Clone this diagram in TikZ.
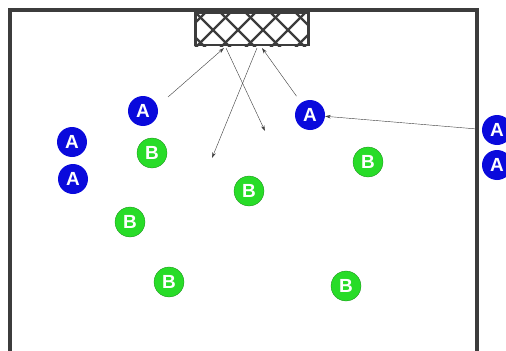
\documentclass[tikz,border=0pt]{standalone}
\usepackage{fontspec}
\setsansfont{Liberation Sans}
\usetikzlibrary{arrows.meta}
\definecolor{teamA}{RGB}{10,10,220}
\definecolor{teamB}{RGB}{40,220,40}
\definecolor{lineGray}{RGB}{60,60,60}
\begin{document}
\begin{tikzpicture}[
        x=0.05cm, y=-0.05cm,
        player/.style={circle, minimum size=1.5cm, inner sep=0pt, text=white, font=\sffamily\bfseries\fontsize{27}{27}\selectfont},
        playerA/.style={player, fill=teamA},
        playerB/.style={player, fill=teamB, draw=teamB!60!black, thin},
        goal/.style={rectangle, draw=lineGray, line width=4pt, minimum width=5.65cm, minimum height=1.6cm, inner sep=0pt},
        hatch/.style={draw=lineGray, line width=3.5pt},
        pass/.style={-{Stealth[length=8pt, width=5pt]}, semithick, black!75}
    ]

        \useasboundingbox (0,0) rectangle (506,350);

        % field
        \draw[lineGray, line width=5pt] (10,352) -- (10,10) -- (477,10) -- (477,352);

        % goal with net
        \node[goal] (goal) at (252,29) {};
        \begin{scope}
            \clip (goal.south west) rectangle (goal.north east);
            \foreach \i in {-50,-25,...,125} {
                \draw[hatch] (195+\i,12) -- ++(36,36);
                \draw[hatch] (195+\i,48) -- ++(36,-36);
            }
        \end{scope}

        % players
        \node[playerA] (a1) at (143,111) {A};
        \node[playerA] (a2) at (72,142) {A};
        \node[playerA] (a3) at (73,179) {A};
        \node[playerA] (a4) at (310,115) {A};
        \node[playerA] (a5) at (497,130) {A};
        \node[playerA] (a6) at (497,165) {A};

        \node[playerB] (b1) at (152,153) {B};
        \node[playerB] (b2) at (368,162) {B};
        \node[playerB] (b3) at (249,191) {B};
        \node[playerB] (b4) at (130,222) {B};
        \node[playerB] (b5) at (169,282) {B};
        \node[playerB] (b6) at (346,286) {B};

        % passes
        \coordinate (p1) at (168,97);
        \coordinate (g1) at (224,48);
        \coordinate (g2) at (226,48);
        \coordinate (p2) at (265,131);
        \coordinate (g3) at (257,48);
        \coordinate (p3) at (212,158);
        \coordinate (g4) at (262,48);
        \coordinate (r1) at (477,129);

        \draw[pass] (p1) -- (g1);
        \draw[pass] (g2) -- (p2);
        \draw[pass] (g3) -- (p3);
        \draw[pass, shorten <=0.4cm] (a4) -- (g4);
        \draw[pass] (r1) -- (a4);

    \end{tikzpicture}
\end{document}
